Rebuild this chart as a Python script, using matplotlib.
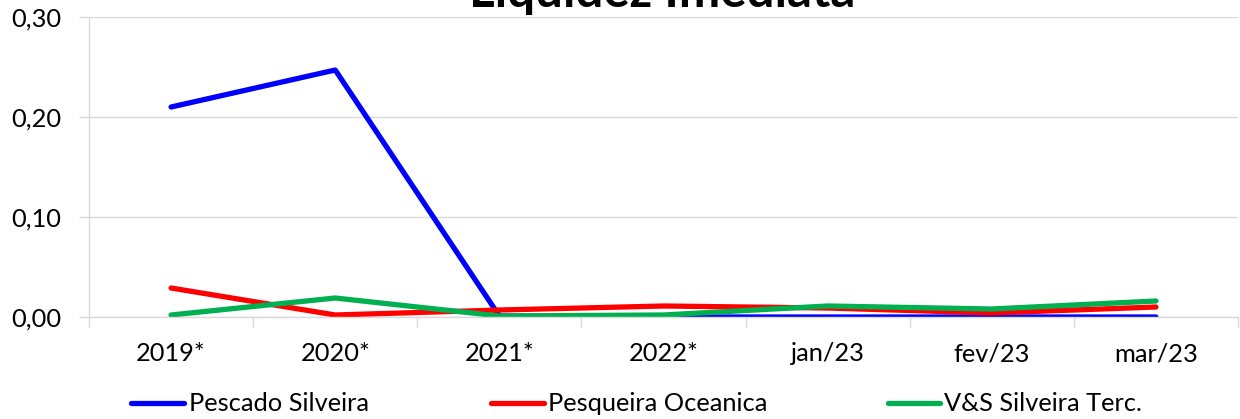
import matplotlib
matplotlib.use("Agg")
import matplotlib.pyplot as plt
import numpy as np
from matplotlib.lines import Line2D

plt.rcParams['font.family'] = ['Lato', 'DejaVu Sans']

categories = ["2019*", "2020*", "2021*", "2022*", "jan/23", "fev/23", "mar/23"]
pescado_silveira = [0.210, 0.247, 0.001, 0.000, 0.000, 0.000, 0.000]
pesqueira_oceanica = [0.029, 0.002, 0.007, 0.011, 0.009, 0.004, 0.010]
vs_silveira_terc = [0.002, 0.019, 0.001, 0.002, 0.011, 0.008, 0.016]
series_names = ["Pescado Silveira", "Pesqueira Oceanica", "V&S Silveira Terc."]
series_colors = ["#0000FF", "#FF0000", "#00B050"]
yticks = [0.0, 0.1, 0.2, 0.3]
ytick_labels = ["0,00", "0,10", "0,20", "0,30"]

W, H = 1240, 419
fig = plt.figure(figsize=(W / 100, H / 100), dpi=100)
ax = fig.add_axes([89 / W, 1 - 317 / H, (1238 - 89) / W, 300 / H])

x = np.arange(len(categories))
lw = 3.8
fs = 18.3
for vals, name, col in zip([pescado_silveira, pesqueira_oceanica, vs_silveira_terc], series_names, series_colors):
    ax.plot(x, vals, color=col, lw=lw, solid_capstyle='round', solid_joinstyle='round', label=name)

ax.set_xlim(-0.5, len(categories) - 0.5)
ax.set_ylim(0, 0.30)
ax.set_yticks(yticks)
ax.set_yticklabels(ytick_labels, fontsize=fs)
ax.set_xticks(x)
ax.set_xticklabels(categories, fontsize=fs)
ax.set_xticks(np.arange(-0.5, len(categories), 1), minor=True)
ax.tick_params(axis='x', which='major', length=0, pad=18)
ax.tick_params(axis='x', which='minor', length=7, color='#d9d9d9', width=1)
ax.tick_params(axis='y', length=7, color='#d9d9d9', width=1, pad=13)
ax.yaxis.grid(True, color='#d9d9d9', lw=1)
ax.set_axisbelow(True)
for s in ['top', 'right']:
    ax.spines[s].set_visible(False)
for s in ['left', 'bottom']:
    ax.spines[s].set_color('#d9d9d9')
    ax.spines[s].set_linewidth(1)

fig.text(662 / W, 1 - 7 / H, "Liquidez Imediata", fontsize=35.5, fontweight='bold',
         ha='center', va='baseline')

# legend (manual placement)
leg_y = 1 - 403 / H
entries = [(131, 184, 189), (491, 544, 548), (888, 940, 944)]
for (x0, x1, xt), name, col in zip(entries, series_names, series_colors):
    fig.add_artist(Line2D([x0 / W, x1 / W], [leg_y, leg_y], color=col, lw=lw,
                          solid_capstyle='round', transform=fig.transFigure))
    fig.text(xt / W, leg_y, name, fontsize=fs, va='center', ha='left')

fig.savefig("out.png", dpi=100)
